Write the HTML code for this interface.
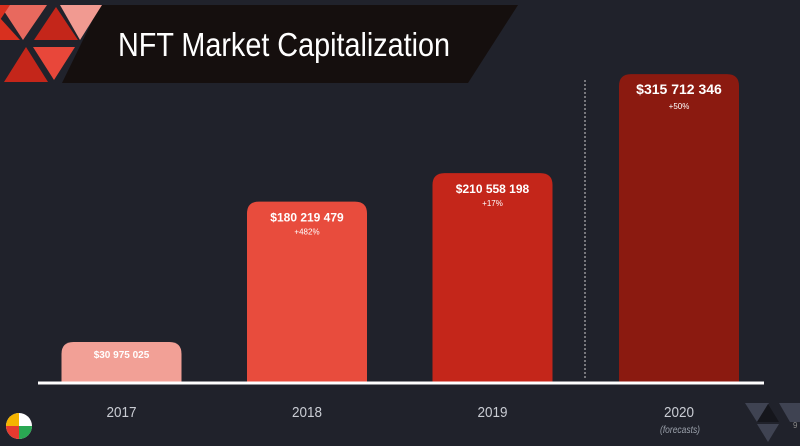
<!DOCTYPE html>
<html><head><meta charset="utf-8"><style>
body{margin:0;background:#20222b;}
svg{display:block;font-family:"Liberation Sans",sans-serif;}
</style></head><body>
<svg width="800" height="446" viewBox="0 0 800 446">
<rect width="800" height="446" fill="#20222b"/>
<g>
<polygon points="100,5 518,5 468,83 62,83" fill="#150f0e"/>
<polygon points="0,5 47,5 23,40" fill="#e8695e"/>
<polygon points="0,5 10,5 0,20" fill="#d8301f"/>
<polygon points="60,5 102,5 80,40" fill="#f19a91"/>
<polygon points="34,40 78,40 56,7" fill="#c4261a"/>
<polygon points="0,18 20,40 0,40" fill="#d8301f"/>
<polygon points="4,82 48,82 26,47" fill="#c4261a"/>
<polygon points="33,47 75,47 54,80" fill="#e8473a"/>
<text x="118" y="56" font-size="33" fill="#ffffff" textLength="332" lengthAdjust="spacingAndGlyphs">NFT Market Capitalization</text>
</g>
<g id="bars"></g>
<line x1="38" y1="383" x2="764" y2="383" stroke="#ffffff" stroke-width="3"/>
<line x1="585" y1="80" x2="585" y2="378" stroke="#cfcfcf" stroke-width="1" stroke-dasharray="2,2"/>
<text x="680" y="433" font-size="10" font-style="italic" fill="#9aa0aa" text-anchor="middle" textLength="40" lengthAdjust="spacingAndGlyphs">(forecasts)</text>
<g>
<polygon points="745,403 769,403 757,422" fill="#3f4352"/>
<polygon points="779,403 800,403 800,422 790,422" fill="#3f4352"/>
<polygon points="757,422 779,422 768,404" fill="#15161c"/>
<polygon points="757,424 779,424 768,442" fill="#3f4352"/>
<text x="793" y="428" font-size="8" fill="#888">9</text>
</g>
<g>
<circle cx="19" cy="426" r="13" fill="#fff"/>
<path d="M19,426 L6,426 A13,13 0 0 1 19,413 Z" fill="#f5b400"/>
<path d="M19,426 L19,439 A13,13 0 0 1 6,426 Z" fill="#e53a2f"/>
<path d="M19,426 L32,426 A13,13 0 0 1 19,439 Z" fill="#2aa853"/>
</g>
</svg>
<script>
const years=["2017","2018","2019","2020"];
const values=[30975025,180219479,210558198,315712346];
const valueLabels=["$30 975 025","$180 219 479","$210 558 198","$315 712 346"];
const growthLabels=["","+482%","+17%","+50%"];
const colors=["#f2a096","#e84c3d","#c4261a","#8b1a10"];
const NS="http://www.w3.org/2000/svg";
const g=document.getElementById("bars");
const base=383;
function yScale(v){return base-(11.8+0.941*v/1e6);}
function xCenter(i){return 121.5+i*185.5+(i==3?1:0);}
const bw=120;
values.forEach((v,i)=>{
  const top=yScale(v),cx=xCenter(i);
  const p=document.createElementNS(NS,"path");
  const x0=cx-bw/2,x1=cx+bw/2,r=12;
  p.setAttribute("d",`M${x0},${base} L${x0},${top+r} Q${x0},${top} ${x0+r},${top} L${x1-r},${top} Q${x1},${top} ${x1},${top+r} L${x1},${base} Z`);
  p.setAttribute("fill",colors[i]);
  
  
  g.appendChild(p);
  const t=document.createElementNS(NS,"text");
  t.setAttribute("x",cx);t.setAttribute("y",top+(i==3?20:i==0?16:20));
  t.setAttribute("text-anchor","middle");t.setAttribute("fill","#fff");
  t.setAttribute("font-weight","bold");t.setAttribute("font-size",i==0?"10":(i==3?"14":"12"));
  t.textContent=valueLabels[i];
  
  
  g.appendChild(t);
  if(growthLabels[i]){
    const s=document.createElementNS(NS,"text");
    s.setAttribute("x",cx);s.setAttribute("y",top+(i==3?35:33));
    s.setAttribute("text-anchor","middle");s.setAttribute("fill","#fff");s.setAttribute("font-size","8");
    s.textContent=growthLabels[i];
    
    
    g.appendChild(s);
  }
  const y=document.createElementNS(NS,"text");
  y.setAttribute("x",cx);y.setAttribute("y",417);
  y.setAttribute("text-anchor","middle");y.setAttribute("fill","#c9ccd3");y.setAttribute("font-size","15");
  y.setAttribute("textLength","30");y.setAttribute("lengthAdjust","spacingAndGlyphs");
  y.textContent=years[i];
  
  
  g.appendChild(y);
});
</script>
</body></html>
